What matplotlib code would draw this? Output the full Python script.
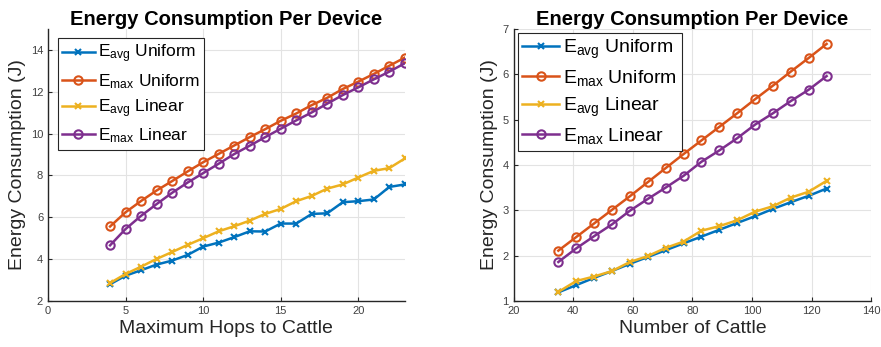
import matplotlib
matplotlib.use("Agg")
import matplotlib.pyplot as plt

plt.rcParams['font.family'] = ['Liberation Sans', 'DejaVu Sans']
plt.rcParams['mathtext.fontset'] = 'custom'
plt.rcParams['mathtext.rm'] = 'Liberation Sans'
plt.rcParams['mathtext.it'] = 'Liberation Sans'

BLUE = '#0072BD'
ORANGE = '#D95319'
YELLOW = '#EDB120'
PURPLE = '#7E2F8E'

# left panel: hops
hops = list(range(4, 24))
hops_avg_uniform = [2.80, 3.21, 3.47, 3.74, 3.93, 4.20, 4.60, 4.79, 5.05, 5.33,
                    5.32, 5.70, 5.70, 6.16, 6.19, 6.72, 6.77, 6.85, 7.45, 7.57]
hops_max_uniform = [5.56, 6.24, 6.78, 7.28, 7.73, 8.19, 8.63, 9.03, 9.43, 9.83,
                    10.21, 10.61, 10.96, 11.36, 11.71, 12.13, 12.48, 12.85, 13.24, 13.63]
hops_avg_linear = [2.86, 3.29, 3.64, 4.01, 4.34, 4.68, 5.00, 5.33, 5.57, 5.84,
                   6.16, 6.40, 6.77, 7.02, 7.37, 7.57, 7.90, 8.22, 8.35, 8.81]
hops_max_linear = [4.66, 5.44, 6.07, 6.63, 7.17, 7.66, 8.11, 8.56, 9.02, 9.42,
                   9.83, 10.23, 10.63, 11.01, 11.43, 11.84, 12.21, 12.59, 12.96, 13.36]

# right panel: number of cattle
cattle = list(range(35, 126, 6))
cattle_avg_uniform = [1.19, 1.35, 1.51, 1.66, 1.82, 1.97, 2.12, 2.27,
                      2.42, 2.57, 2.72, 2.87, 3.03, 3.18, 3.32, 3.48]
cattle_max_uniform = [2.11, 2.41, 2.71, 3.01, 3.31, 3.62, 3.93, 4.24,
                      4.54, 4.84, 5.14, 5.45, 5.75, 6.06, 6.36, 6.67]
cattle_avg_linear = [1.20, 1.44, 1.54, 1.66, 1.86, 1.99, 2.17, 2.31,
                     2.55, 2.65, 2.78, 2.97, 3.09, 3.28, 3.41, 3.65]
cattle_max_linear = [1.86, 2.16, 2.43, 2.69, 2.99, 3.25, 3.50, 3.76,
                     4.07, 4.32, 4.59, 4.89, 5.14, 5.41, 5.66, 5.96]

labels = [r'E$_{\mathrm{avg}}$ Uniform', r'E$_{\mathrm{max}}$ Uniform',
          r'E$_{\mathrm{avg}}$ Linear', r'E$_{\mathrm{max}}$ Linear']


def draw(ax, x, series, xlabel, xlim, ylim, xticks, yticks, legsize, legpad):
    styles = [(BLUE, 'x', 4), (ORANGE, 'o', 6), (YELLOW, 'x', 4), (PURPLE, 'o', 6)]
    for y, (c, m, ms), lab in zip(series, styles, labels):
        ax.plot(x, y, color=c, marker=m, markersize=ms, markerfacecolor='none',
                markeredgewidth=1.5, linewidth=1.8, label=lab)
    ax.set_xlim(*xlim)
    ax.set_ylim(*ylim)
    ax.set_xticks(xticks)
    ax.set_yticks(yticks)
    ax.grid(True, color='#e3e3e3', linewidth=0.8)
    ax.set_axisbelow(True)
    for s in ['top', 'right']:
        ax.spines[s].set_visible(False)
    for s in ['left', 'bottom']:
        ax.spines[s].set_color('#262626')
        ax.spines[s].set_linewidth(1.0)
    ax.tick_params(direction='in', length=3, labelsize=8, colors='#262626',
                   labelcolor='#404040')
    ax.set_title('Energy Consumption Per Device', fontsize=14.5, fontweight='bold', pad=3)
    ax.set_xlabel(xlabel, fontsize=14, color='#262626', labelpad=3)
    ax.set_ylabel('Energy Consumption (J)', fontsize=14, color='#262626', labelpad=3)
    leg = ax.legend(loc='upper left', fontsize=legsize, fancybox=False, framealpha=1,
                    edgecolor='#262626', handlelength=1.9, borderpad=0.25,
                    labelspacing=0.38, handletextpad=0.2, borderaxespad=legpad)
    leg.get_frame().set_linewidth(0.8)


fig = plt.figure(figsize=(8.81, 3.47), dpi=100)
ax1 = fig.add_axes([0.0545, 0.1326, 0.405, 0.784])
ax2 = fig.add_axes([0.583, 0.1326, 0.406, 0.784])

draw(ax1, hops, [hops_avg_uniform, hops_max_uniform, hops_avg_linear, hops_max_linear],
     'Maximum Hops to Cattle', (0, 23), (2, 15), [0, 5, 10, 15, 20], [2, 4, 6, 8, 10, 12, 14],
     12.5, 0.55)
draw(ax2, cattle, [cattle_avg_uniform, cattle_max_uniform, cattle_avg_linear, cattle_max_linear],
     'Number of Cattle', (20, 140), (1, 7), list(range(20, 141, 20)), list(range(1, 8)),
     14, 0.2)

fig.savefig('out.png', dpi=100)
